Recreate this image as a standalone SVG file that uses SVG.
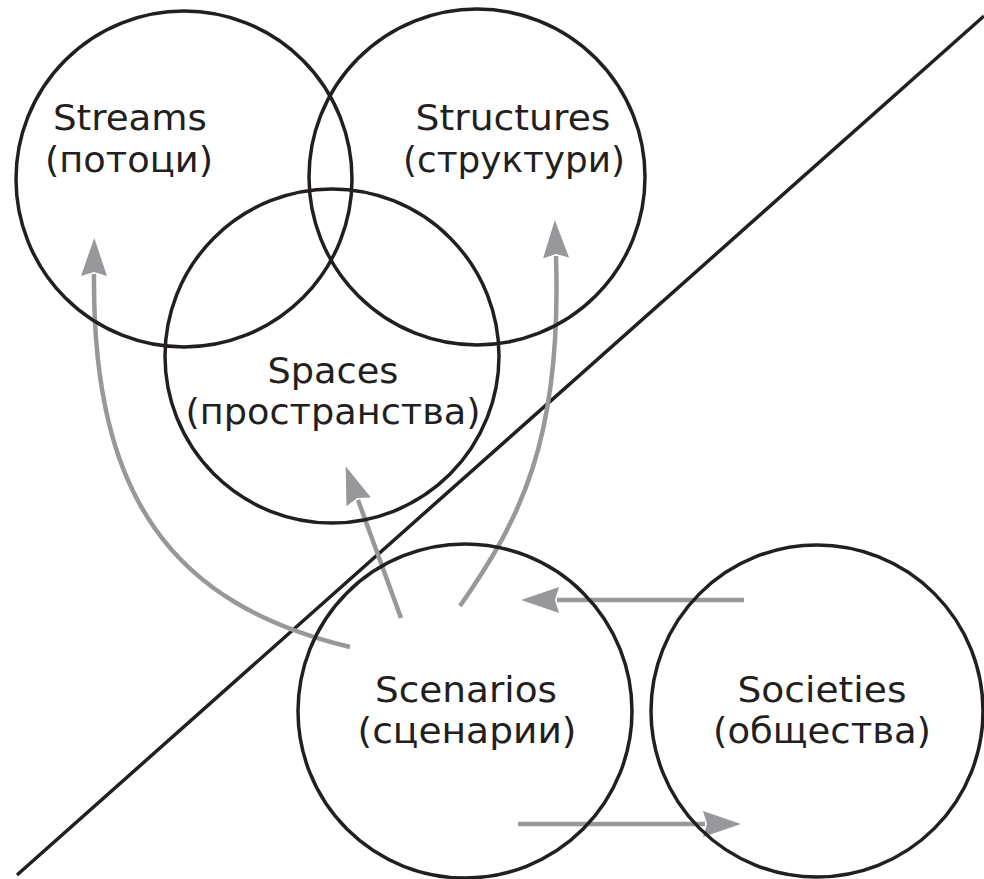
<svg xmlns="http://www.w3.org/2000/svg" width="984" height="879" viewBox="0 0 984 879">
<style>
.c{fill:none;stroke:#231f20;stroke-width:3.5}
.t{font-family:"DejaVu Sans","Open Sans",sans-serif;font-size:36px;fill:#231f20;text-anchor:middle}
.a{fill:none;stroke:#97989b;stroke-width:4.5;marker-end:url(#ah)}
</style>
<defs>
<marker id="ah" markerUnits="userSpaceOnUse" markerWidth="40" markerHeight="30" viewBox="-1 -14 40 28" refX="2" refY="0" orient="auto">
<path d="M38,0 L0,-13 L4,0 L0,13 Z" fill="#97989b"/>
</marker>
</defs>
<rect width="984" height="879" fill="#ffffff"/>
<line x1="17" y1="875" x2="984" y2="16" stroke="#231f20" stroke-width="3.5"/>
<g id="connectors">
<path class="a" d="M350,647 C175,605 92,500 94,274"/>
<path class="a" d="M401,618 L358,500"/>
<path class="a" d="M460,606 C520,520 562,440 556,256"/>
<path class="a" d="M744,600 L557,600"/>
<path class="a" d="M518,824 L705,824"/>
</g>
<g id="streams">
<circle class="c" cx="184" cy="179" r="168"/>
<text class="t" x="130" y="130" textLength="154" lengthAdjust="spacingAndGlyphs">Streams</text>
<text class="t" x="129" y="172" textLength="168" lengthAdjust="spacingAndGlyphs">(потоци)</text>
</g>
<g id="structures">
<circle class="c" cx="477" cy="177" r="168"/>
<text class="t" x="513" y="130" textLength="195" lengthAdjust="spacingAndGlyphs">Structures</text>
<text class="t" x="514" y="172" textLength="222" lengthAdjust="spacingAndGlyphs">(структури)</text>
</g>
<g id="spaces">
<circle class="c" cx="332" cy="356" r="167"/>
<text class="t" x="333" y="383" textLength="131" lengthAdjust="spacingAndGlyphs">Spaces</text>
<text class="t" x="333" y="424" textLength="295" lengthAdjust="spacingAndGlyphs">(пространства)</text>
</g>
<g id="scenarios">
<circle class="c" cx="465" cy="711" r="167"/>
<text class="t" x="466" y="702" textLength="182" lengthAdjust="spacingAndGlyphs">Scenarios</text>
<text class="t" x="467" y="743" textLength="219" lengthAdjust="spacingAndGlyphs">(сценарии)</text>
</g>
<g id="societies">
<circle class="c" cx="817" cy="711" r="166"/>
<text class="t" x="822" y="702" textLength="169" lengthAdjust="spacingAndGlyphs">Societies</text>
<text class="t" x="822" y="743" textLength="218" lengthAdjust="spacingAndGlyphs">(общества)</text>
</g>
</svg>
